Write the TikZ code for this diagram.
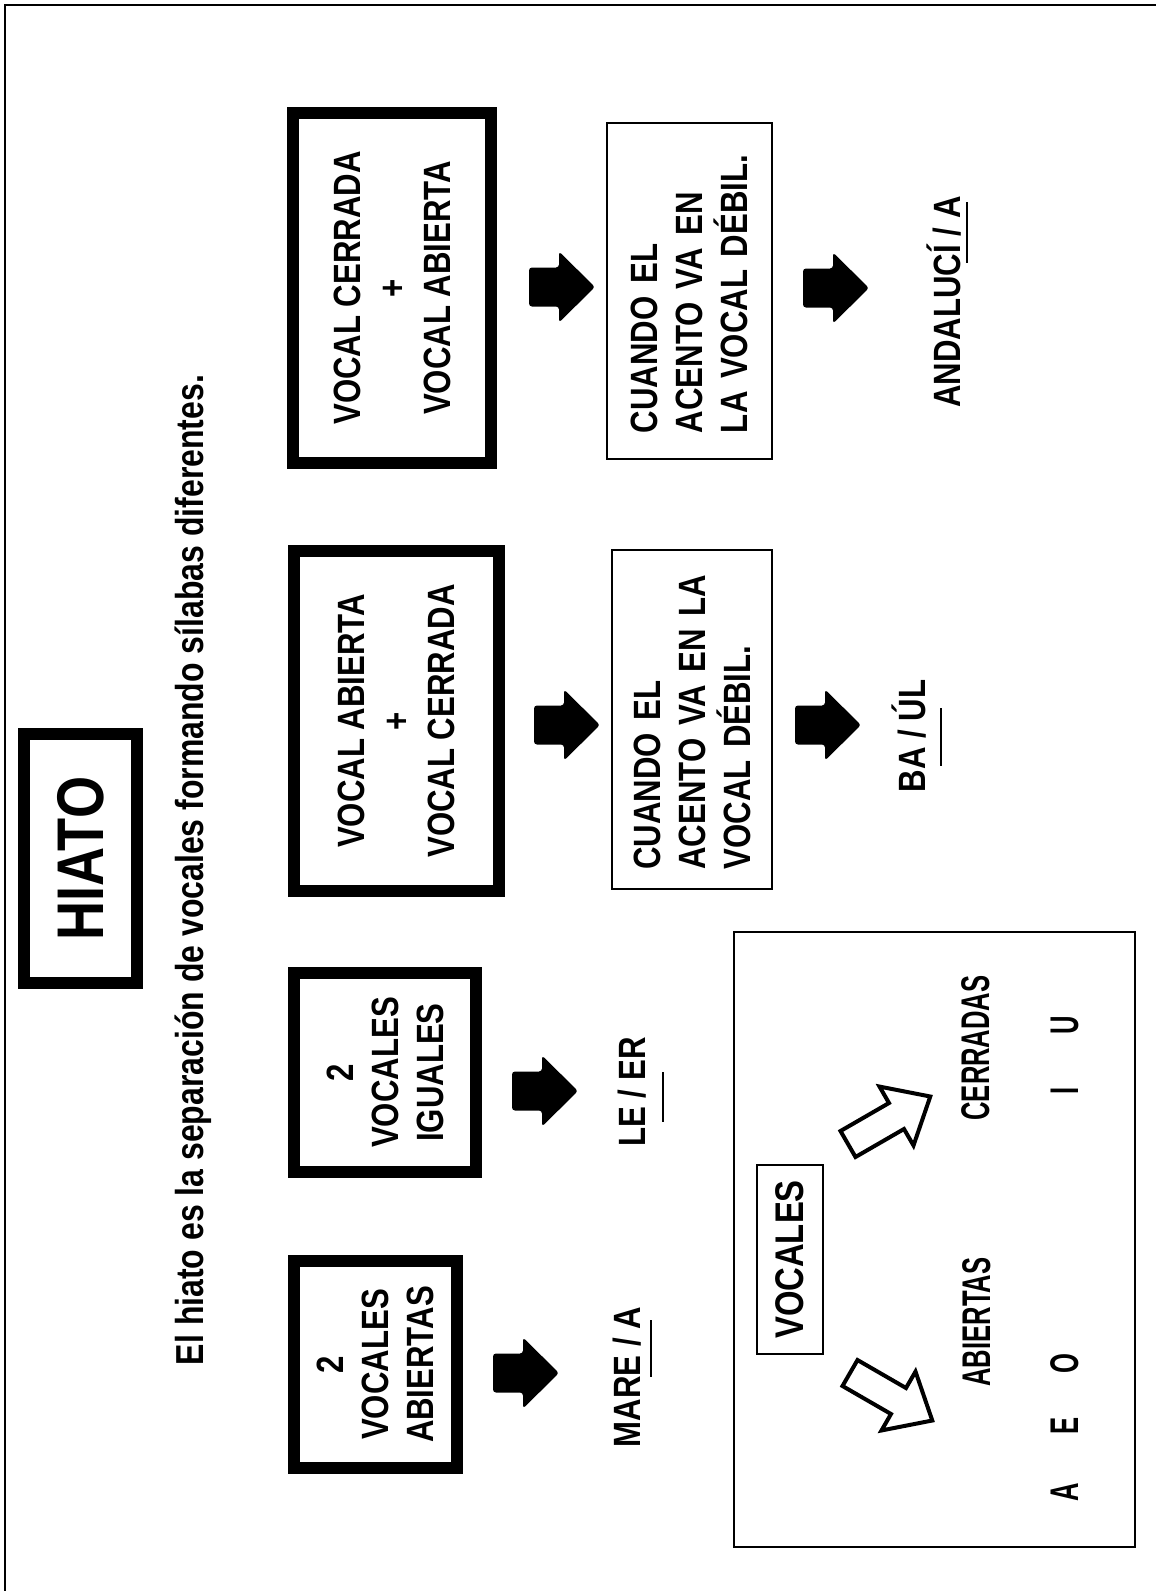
\documentclass[tikz,border=0pt]{standalone}
\usepackage{fontspec}
\setmainfont{Liberation Sans}[FakeStretch=0.82]
\newfontfamily\narrowfont{Liberation Sans}[FakeStretch=0.64]
\usetikzlibrary{positioning}

\begin{document}
\begin{tikzpicture}[x=0.5pt,y=-0.5pt]
    \useasboundingbox (0,0) rectangle (1156,1591);

    \tikzstyle{gruesa}=[rectangle,draw,line width=6pt,rotate=90,align=center,inner sep=0pt,font=\fontsize{19}{22.5}\selectfont\bfseries]  % 粗框
    \tikzstyle{fina}=[rectangle,draw,line width=1pt,rotate=90,align=left,inner sep=0pt,font=\fontsize{19}{22.5}\selectfont\bfseries]  % 细框
    \tikzstyle{texto}=[rotate=90,inner sep=0pt,anchor=base,font=\fontsize{19}{22.5}\selectfont\bfseries]  % 例子
    \tikzstyle{panel}=[rotate=90,inner sep=0pt,anchor=base,font=\narrowfont\fontsize{20}{24}\selectfont\bfseries]
    \tikzstyle{subrayado}=[line width=1pt]
    \tikzset{
      flecha/.pic={\fill[rounded corners=1.5pt] (-33,-19.5) -- (-3,-19.5) -- (-3,-35.5) -- (33,0) -- (-3,35.5) -- (-3,19.5) -- (-33,19.5) -- cycle;},
      hueca/.pic={\draw[line width=2pt,line join=miter] (0,-15) -- (56,-15) -- (56,-34) -- (95,0) -- (56,34) -- (56,15) -- (0,15) -- cycle;}
    }

    % 外框
    \draw[line width=1.2pt] (5,1591) -- (5,5) -- (1156,5);

    % 标题
    \node[gruesa,minimum width=124.5pt,minimum height=56.5pt,font=\fontsize{33}{38}\selectfont\bfseries] (hiato) at (80.5,858.5) {HIATO};
    \node[texto,font=\fontsize{19.5}{22}\selectfont\bfseries] (def) at (203,870) {El hiato es la separación de vocales formando sílabas diferentes.};

    % 四种情况
    \node[gruesa,minimum width=103.5pt,minimum height=81.5pt] (abiertas) at (375.5,1364.5) {2\\VOCALES\\ABIERTAS};
    \node[gruesa,minimum width=99.5pt,minimum height=91pt] (iguales) at (385,1072.5) {2\\VOCALES\\IGUALES};
    \node[gruesa,minimum width=170pt,minimum height=102.5pt] (abcer) at (396.5,721) {VOCAL ABIERTA\\+\\VOCAL CERRADA};
    \node[gruesa,minimum width=175pt,minimum height=99pt] (cerab) at (392,288) {VOCAL CERRADA\\+\\VOCAL ABIERTA};

    \node[fina,minimum width=169.5pt,minimum height=80pt,text width=150pt] (acento1) at (692,719.5) {CUANDO EL\\ACENTO VA EN LA\\VOCAL DÉBIL.};
    \node[fina,minimum width=168pt,minimum height=82.5pt,text width=142pt] (acento2) at (689.5,291) {CUANDO EL\\ACENTO VA EN\\LA VOCAL DÉBIL.};

    % 例子
    \node[texto] (mare) at (640,1377) {MARE / A};
    \node[texto] (leer) at (645,1092) {LE / ER};
    \node[texto] (baul) at (925,736) {BA / ÚL};
    \node[texto] (anda) at (960,302) {ANDALUCÍ / A};
    \draw[subrayado] (651,1320) -- (651,1377);
    \draw[subrayado] (663,1072) -- (663,1122);
    \draw[subrayado] (941,708) -- (941,766);
    \draw[subrayado] (967,202) -- (967,263);

    % 箭头
    \pic at (526,1373) {flecha};
    \pic at (545,1091) {flecha};
    \pic at (567,725) {flecha};
    \pic at (828,725) {flecha};
    \pic at (562,287) {flecha};
    \pic at (836,288) {flecha};

    % 元音
    \draw[line width=1pt] (734,932) rectangle (1135,1547);
    \node[fina,minimum width=94.5pt,minimum height=33pt,align=center,font=\fontsize{20}{24}\selectfont\bfseries] (vocales) at (790,1259.5) {VOCALES};
    \pic[rotate=30] at (848,1144) {hueca};
    \pic[rotate=-30] at (850,1373) {hueca};
    \node[panel] (cerradas) at (989,1048) {CERRADAS};
    \node[panel] (abiertas2) at (990,1322) {ABIERTAS};
    \node[panel] (a) at (1078,1492) {A};
    \node[panel] (e) at (1078,1426) {E};
    \node[panel] (o) at (1078,1364) {O};
    \node[panel] (i) at (1078,1091) {I};
    \node[panel] (u) at (1078,1025) {U};
\end{tikzpicture}
\end{document}
